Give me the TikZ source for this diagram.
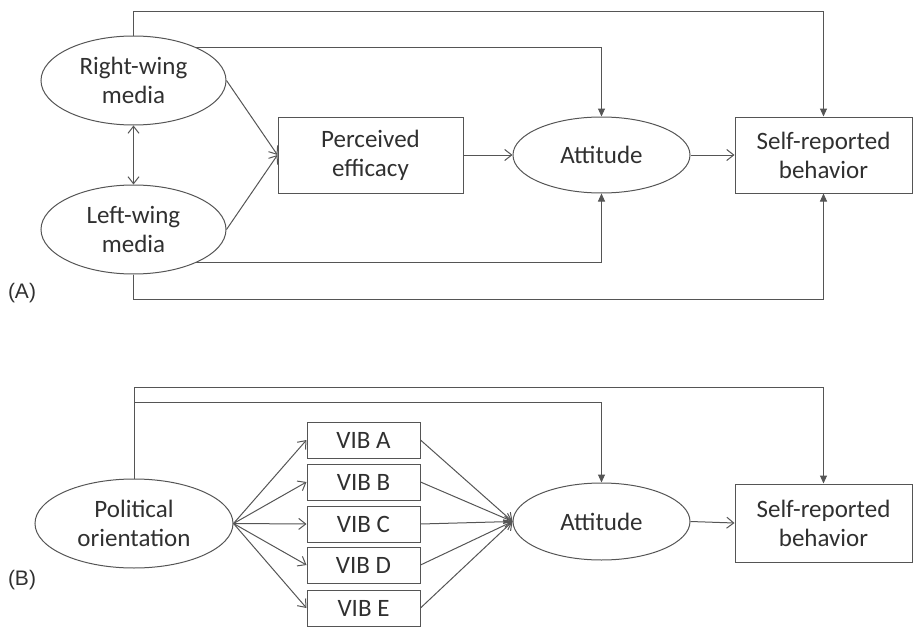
\documentclass[tikz,border=0pt]{standalone}
\usepackage{fontspec}
\setmainfont{Carlito}
\newfontfamily\labfont{Liberation Sans}
\usetikzlibrary{shapes.geometric,arrows.meta}
\definecolor{ln}{HTML}{555555}
\definecolor{tx}{HTML}{303030}
\tikzset{
  every node/.style={text=tx, font=\fontsize{25}{29}\selectfont, align=center},
  ell/.style={draw=ln, line width=1pt, ellipse, inner sep=0pt},
  box/.style={draw=ln, line width=1pt, rectangle, inner sep=0pt},
  arr/.style={draw=ln, line width=1pt, -{Straight Barb[length=7pt,width=11pt]}},
  darr/.style={draw=ln, line width=1pt, {Straight Barb[length=7pt,width=11pt]}-{Straight Barb[length=7pt,width=11pt]}},
  fb/.style={draw=ln, line width=1pt, -{Triangle[length=8pt,width=7pt]}},
  lab/.style={font=\labfont\fontsize{21}{24}\selectfont, text=tx}
}
\begin{document}
\begin{tikzpicture}[x=1pt,y=-1pt]
\useasboundingbox (0,0) rectangle (914,629);
% ---------- Panel A ----------
\node[ell, minimum width=185pt, minimum height=89pt] (rw) at (133.5,80.5) {Right-wing\\media};
\node[ell, minimum width=185pt, minimum height=89pt] (lw) at (133.5,229.5) {Left-wing\\media};
\node[box, minimum width=185pt, minimum height=76pt] (pe) at (370.5,155) {Perceived\\efficacy};
\node[ell, minimum width=177pt, minimum height=76pt] (at) at (601.5,155) {Attitude};
\node[box, minimum width=177pt, minimum height=76pt] (sr) at (823.5,155) {Self-reported\\behavior};
\node[lab] (la) at (22,293) {(A)};

\draw[darr] (rw.south) -- (lw.north);
\draw[arr] (rw.east) -- (pe.west);
\draw[arr] (lw.east) -- (pe.west);
\draw[arr] (pe.east) -- (at.west);
\draw[arr] (at.east) -- (sr.west);
\draw[fb] (rw.north) -- (rw.north |- 0,11) -| (sr.north);
\draw[fb] (rw.28) -| (at.north);
\draw[fb] (lw.-28) -| (at.south);
\draw[fb] (lw.south) -- (lw.south |- 0,299) -| (sr.south);

% ---------- Panel B ----------
\node[ell, minimum width=198pt, minimum height=89pt] (po) at (134,523.5) {Political\\orientation};
\node[box, minimum width=113pt, minimum height=36pt] (va) at (363.5,440) {VIB A};
\node[box, minimum width=113pt, minimum height=36pt] (vb) at (363.5,482) {VIB B};
\node[box, minimum width=113pt, minimum height=36pt] (vc) at (363.5,524) {VIB C};
\node[box, minimum width=113pt, minimum height=36pt] (vd) at (363.5,565) {VIB D};
\node[box, minimum width=113pt, minimum height=36pt] (ve) at (363.5,608) {VIB E};
\node[ell, minimum width=177pt, minimum height=77pt] (at2) at (601.5,521.5) {Attitude};
\node[box, minimum width=177pt, minimum height=78pt] (sr2) at (823.5,523) {Self-reported\\behavior};
\node[lab] (lb) at (22,580) {(B)};

\foreach \v in {va,vb,vc,vd,ve}{
  \draw[arr] (po.east) -- (\v.west);
  \draw[arr] (\v.east) -- (at2.west);
}
\draw[arr] (at2.east) -- (sr2.west);
\draw[fb] (po.north) -- (po.north |- 0,387) -| (sr2.north);
\draw[fb] (po.north |- 0,402) -| (at2.north);
\end{tikzpicture}
\end{document}
